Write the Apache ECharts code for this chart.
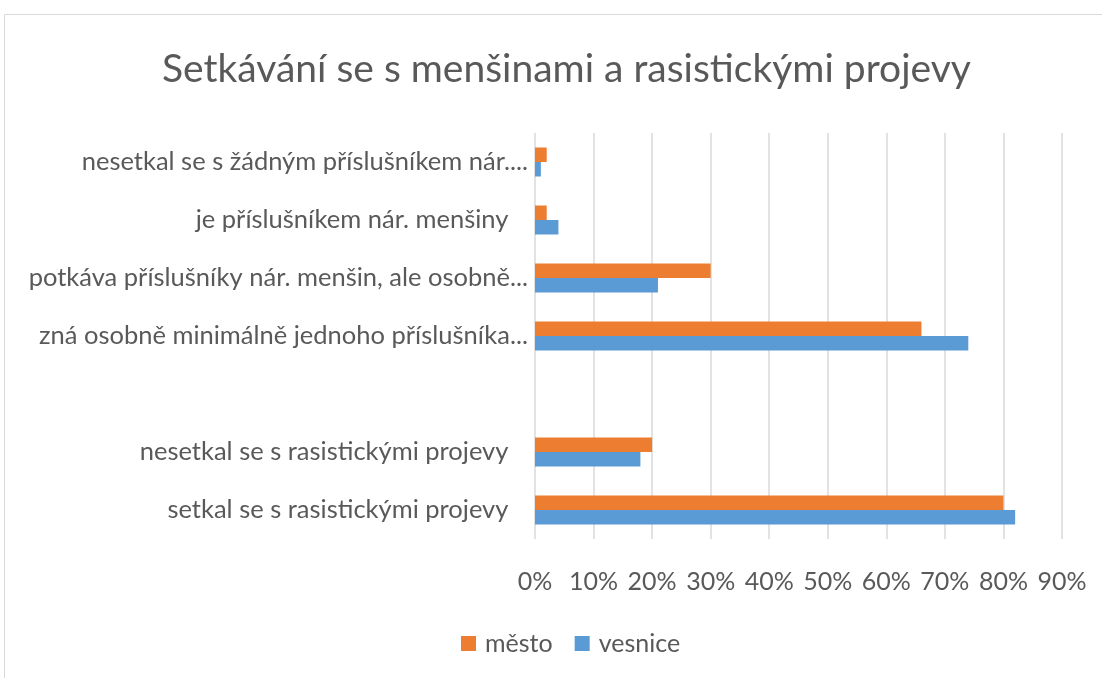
<!DOCTYPE html>
<html>
<head>
<meta charset="utf-8">
<script src="https://cdn.jsdelivr.net/npm/echarts@6/dist/echarts.min.js"></script>
<style>
  html, body { margin: 0; padding: 0; background: #fff; }
  #chart { width: 1102px; height: 678px; }
</style>
</head>
<body>
<div id="chart"></div>
<script>
// kategorie odspodu nahoru (jako v Excelu)
const categories = [
  'setkal se s rasistickými projevy   ',
  'nesetkal se s rasistickými projevy   ',
  '',
  'zná osobně minimálně jednoho příslušníka...',
  'potkáva příslušníky nár. menšin, ale osobně...',
  'je příslušníkem nár. menšiny   ',
  'nesetkal se s žádným příslušníkem nár....'
]
const seriesNames = ['město', 'vesnice']
// hodnoty v %
const mesto = [80, 20, null, 66, 30, 2, 2]
const vesnice = [82, 18, null, 74, 21, 4, 1]
const xTicks = [0, 10, 20, 30, 40, 50, 60, 70, 80, 90]

const font = 'Lato'
const textColor = '#595959'

const myChart = echarts.init(document.getElementById('chart'))

const options = {
  backgroundColor: '#fff',
  title: {
    text: 'Setkávání se s menšinami a rasistickými projevy',
    left: 157,
    top: 45,
    textStyle: {
      fontFamily: font,
      fontSize: 39,
      fontWeight: 'normal',
      color: textColor
    }
  },
  // rámeček grafu
  graphic: [{
    type: 'rect',
    shape: { x: 4.5, y: 14.5, width: 1200, height: 800 },
    style: { fill: 'none', stroke: '#d9d9d9', lineWidth: 1 },
    silent: true
  }],
  legend: {
    data: seriesNames,
    bottom: 17,
    left: 456,
    itemWidth: 15,
    itemHeight: 15,
    itemGap: 22,
    icon: 'rect',
    textStyle: {
      fontFamily: font,
      fontSize: 25,
      color: textColor,
      padding: [0, 0, 0, 4]
    }
  },
  grid: {
    top: 133,
    bottom: 139,
    left: 535,
    right: 40
  },
  xAxis: {
    type: 'value',
    min: xTicks[0],
    max: xTicks[xTicks.length - 1],
    interval: 10,
    axisLine: { show: false },
    axisTick: { show: false },
    splitLine: {
      lineStyle: { color: '#d9d9d9', width: 1.5 }
    },
    axisLabel: {
      formatter: '{value}%',
      margin: 30,
      fontFamily: font,
      fontSize: 25,
      color: textColor
    }
  },
  yAxis: {
    type: 'category',
    data: categories,
    axisLine: { show: false },
    axisTick: { show: false },
    axisLabel: {
      margin: 7,
      fontFamily: font,
      fontSize: 25.5,
      color: textColor
    }
  },
  series: [
    {
      name: seriesNames[0],
      type: 'bar',
      data: mesto,
      barGap: '0%',
      barCategoryGap: '50%',
      itemStyle: { color: '#ED7D31' }
    },
    {
      name: seriesNames[1],
      type: 'bar',
      data: vesnice,
      barGap: '0%',
      barCategoryGap: '50%',
      itemStyle: { color: '#5B9BD5' }
    }
  ]
}

myChart.setOption(options)
</script>
</body>
</html>
